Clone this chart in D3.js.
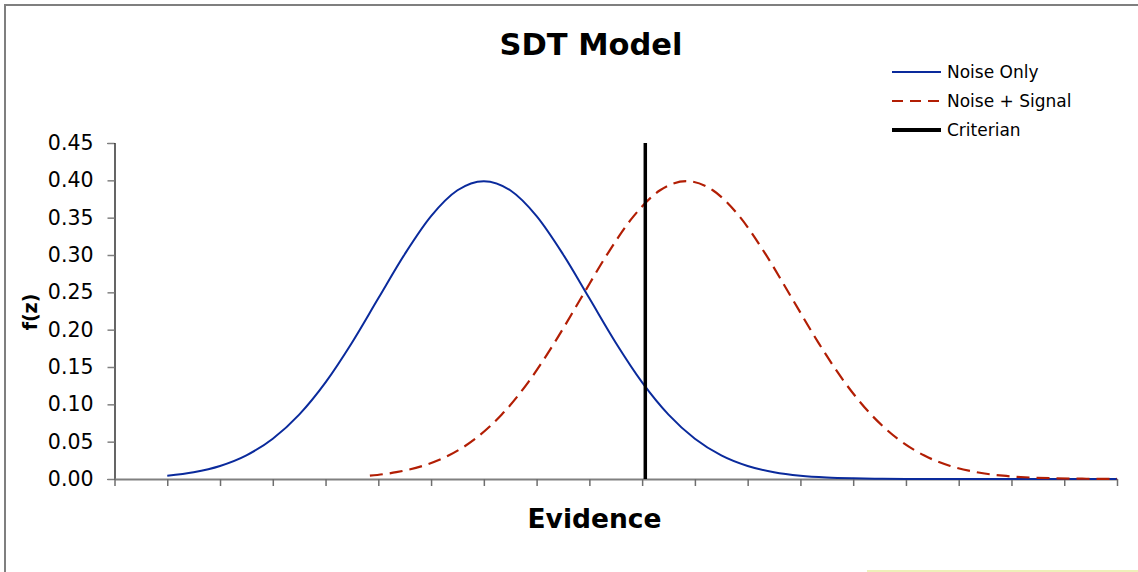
<!DOCTYPE html>
<html>
<head>
<meta charset="utf-8">
<script src="https://cdn.jsdelivr.net/npm/d3@7"></script>
<style>
  body { margin: 0; background: #fff; }
  svg text { font-family: "DejaVu Sans", Verdana, sans-serif; fill: #000; }
</style>
</head>
<body>
<div id="chart"></div>
<script>
(function() {

// data (z units, 0.5 per category tick)
const noiseX = [-3, -2.75, -2.5, -2.25, -2, -1.75, -1.5, -1.25, -1, -0.75, -0.5, -0.25, 0,
    0.25, 0.5, 0.75, 1, 1.25, 1.5, 1.75, 2, 2.25, 2.5, 2.75, 3,
    3.25, 3.5, 3.75, 4, 4.25, 4.5, 4.75, 5, 5.25, 5.5, 5.75, 6];
const noiseY = [0.0044, 0.0091, 0.0175, 0.0317, 0.054, 0.0863, 0.1295, 0.1826, 0.242, 0.3011, 0.3521, 0.3867, 0.3989,
    0.3867, 0.3521, 0.3011, 0.242, 0.1826, 0.1295, 0.0863, 0.054, 0.0317, 0.0175, 0.0091, 0.0044,
    0.002, 0.0009, 0.0004, 0.0001, 0.0001, 0, 0, 0, 0, 0, 0, 0];

const signalX = [-1.08, -0.83, -0.58, -0.33, -0.08, 0.17, 0.42, 0.67, 0.92, 1.17, 1.42, 1.67, 1.92,
    2.17, 2.42, 2.67, 2.92, 3.17, 3.42, 3.67, 3.92, 4.17, 4.42, 4.67, 4.92,
    5.17, 5.42, 5.67, 5.92, 6];
const signalY = [0.0044, 0.0091, 0.0175, 0.0317, 0.054, 0.0863, 0.1295, 0.1826, 0.242, 0.3011, 0.3521, 0.3867, 0.3989,
    0.3867, 0.3521, 0.3011, 0.242, 0.1826, 0.1295, 0.0863, 0.054, 0.0317, 0.0175, 0.0091, 0.0044,
    0.002, 0.0009, 0.0004, 0.0001, 0.0001];

const criterionX = [1.53, 1.53];
const criterionY = [0, 0.45];

const yTicks = [0, 0.05, 0.1, 0.15, 0.2, 0.25, 0.3, 0.35, 0.4, 0.45];
const xTicks = d3.range(-3.5, 6.01, 0.5);   // 20 category boundaries, no labels

const legendNames = ["Noise Only", "Noise + Signal", "Criterian"];

// layout
let W = 1138, H = 572;
let left = 114.5, right = 1117, top = 143, bottom = 479;

let xScale = d3.scaleLinear().domain([-3.5, 6]).range([left, right]);
let yScale = d3.scaleLinear().domain([0, 0.45]).range([bottom, top]);

let line = d3.line()
    .x((d) => xScale(d.x))
    .y((d) => yScale(d.y))
    .curve(d3.curveMonotoneX);

let zip = (xs, ys) => xs.map((x, i) => ({x: x, y: ys[i]}));

let svg = d3.select("#chart").append("svg")
    .attr("width", W)
    .attr("height", H);

// outer chart frame (only top/left visible in the picture)
svg.append("rect")
    .attr("x", 5).attr("y", 5)
    .attr("width", W + 20).attr("height", H + 20)
    .attr("fill", "none")
    .attr("stroke", "#7f7f7f")
    .attr("stroke-width", 2);

svg.append("line")
    .attr("x1", 867).attr("x2", W)
    .attr("y1", 571).attr("y2", 571)
    .attr("stroke", "#eef0b8").attr("stroke-width", 2);

// title
svg.append("text")
    .attr("x", 591).attr("y", 55)
    .attr("text-anchor", "middle")
    .attr("font-size", 30.5).attr("font-weight", "bold")
    .text("SDT Model");

// y axis
let yAxis = svg.append("g")
    .attr("transform", "translate(" + left + ",0)")
    .call(d3.axisLeft(yScale).tickValues(yTicks).tickFormat(d3.format(".2f")).tickSize(7).tickPadding(14));
yAxis.select(".domain").attr("stroke", "#000").attr("stroke-width", 1.2);
yAxis.selectAll(".tick line").attr("stroke", "#808080").attr("stroke-width", 1.5);
yAxis.selectAll(".tick text")
    .attr("font-size", 20.5)
    .attr("font-family", "DejaVu Sans, Verdana, sans-serif")
    .attr("fill", "#000");

// x axis
let xAxis = svg.append("g")
    .attr("transform", "translate(0," + bottom + ")")
    .call(d3.axisBottom(xScale).tickValues(xTicks).tickFormat("").tickSize(7).tickSizeOuter(0));
xAxis.select(".domain").attr("stroke", "#808080").attr("stroke-width", 2);
xAxis.selectAll(".tick line").attr("stroke", "#6e6e6e").attr("stroke-width", 1.5);

// axis titles
svg.append("text")
    .attr("transform", "translate(37,312) rotate(-90)")
    .attr("text-anchor", "middle")
    .attr("font-size", 19).attr("font-weight", "bold")
    .text("f(z)");

svg.append("text")
    .attr("x", 594.5).attr("y", 528)
    .attr("text-anchor", "middle")
    .attr("font-size", 26.5).attr("font-weight", "bold")
    .text("Evidence");

// series
svg.append("path")
    .datum(zip(noiseX, noiseY))
    .attr("fill", "none")
    .attr("stroke", "#0a2a9c")
    .attr("stroke-width", 2)
    .attr("d", line);

svg.append("path")
    .datum(zip(signalX, signalY))
    .attr("fill", "none")
    .attr("stroke", "#b21e04")
    .attr("stroke-width", 2.2)
    .attr("stroke-dasharray", "13,7")
    .attr("d", line);

svg.append("path")
    .datum(zip(criterionX, criterionY))
    .attr("fill", "none")
    .attr("stroke", "#000")
    .attr("stroke-width", 3.5)
    .attr("d", d3.line().x((d) => xScale(d.x)).y((d) => yScale(d.y)));

// legend
let legendStyles = [
    {stroke: "#0a2a9c", width: 2, dash: null},
    {stroke: "#b21e04", width: 2.2, dash: "11,7"},
    {stroke: "#000", width: 4, dash: null}
];
let lg = svg.append("g").attr("transform", "translate(892,72)");
legendNames.forEach(function(name, i) {
    let row = lg.append("g").attr("transform", "translate(0," + (i * 29) + ")");
    row.append("line")
        .attr("x1", 0).attr("x2", 49)
        .attr("stroke", legendStyles[i].stroke)
        .attr("stroke-width", legendStyles[i].width)
        .attr("stroke-dasharray", legendStyles[i].dash);
    row.append("text")
        .attr("x", 55).attr("y", 6)
        .attr("font-size", 17)
        .text(name);
});

})();
</script>
</body>
</html>
